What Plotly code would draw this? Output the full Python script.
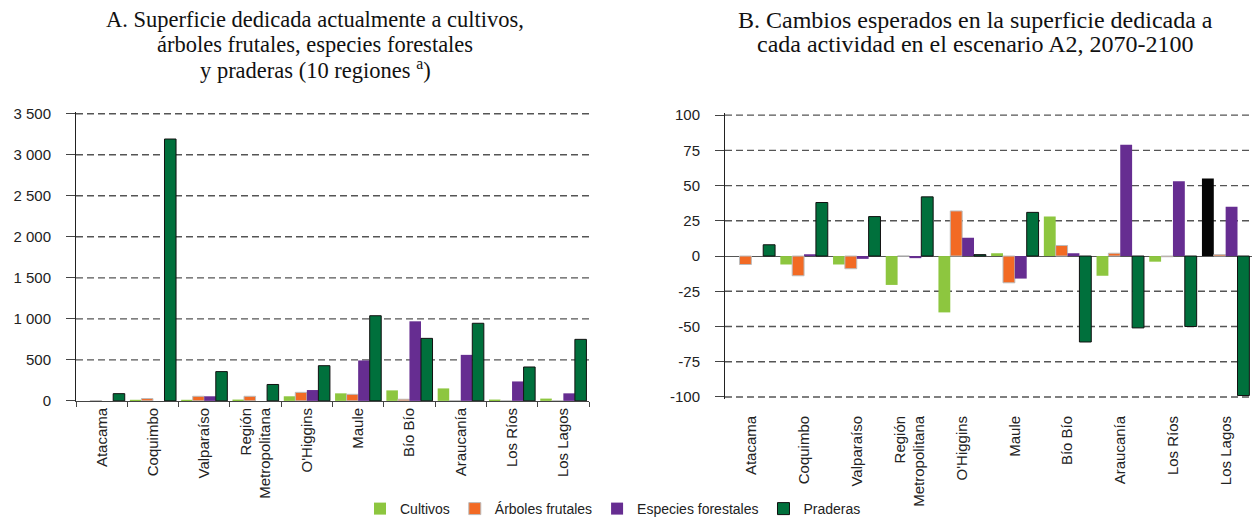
import plotly.graph_objects as go

# Regions (categories shared by both panels)
regions = ["Atacama", "Coquimbo", "Valparaíso", "Región<br>Metropolitana", "O'Higgins",
           "Maule", "Bío Bío", "Araucanía", "Los Ríos", "Los Lagos"]

series_names = ["Cultivos", "Árboles frutales", "Especies forestales", "Praderas"]

# Panel A: current surface (thousand ha)
cultivos_a = [0, 5, 5, 16, 56, 92, 128, 152, 16, 28]
arboles_a = [3, 28, 56, 56, 104, 80, 20, 3, 0, 0]
especies_a = [0, 0, 56, 0, 132, 493, 970, 561, 237, 92]
praderas_a = [88, 3192, 357, 200, 429, 1038, 762, 946, 413, 750]

# Panel B: expected change (%), scenario A2, 2070-2100
cultivos_b = [0, -6, -6, -20.5, -40, 2, 28, -14, -4, 55]
arboles_b = [-6, -14, -9, 0, 32, -19, 7.5, 2, -0.5, 1]
especies_b = [0, 1, -2, -1.5, 13, -16, 2, 79, 53, 35]
praderas_b = [8, 38, 28, 42, 1, 31, -61, -51, -50, -99]

# Y tick labels
ticks_a = [0, 500, 1000, 1500, 2000, 2500, 3000, 3500]
ticktext_a = ["0", "500", "1 000", "1 500", "2 000", "2 500", "3 000", "3 500"]
ticks_b = [-100, -75, -50, -25, 0, 25, 50, 75, 100]
ticktext_b = ["-100", "-75", "-50", "-25", "0", "25", "50", "75", "100"]

# Panel titles, one entry per line
title_a = ["A. Superficie dedicada actualmente a cultivos,",
           "árboles frutales, especies forestales",
           "y praderas (10 regiones <sup>a</sup>)"]
title_b = ["B. Cambios esperados en la superficie dedicada a",
           "cada actividad en el escenario A2, 2070-2100"]

W, H = 1253, 525
SANS = "Liberation Sans, Arial, sans-serif"
SERIF = "Liberation Serif, Times New Roman, serif"

fills = ["#8DC63F", "#F26A24", "#662D91", "#00703C"]
outlines = [dict(width=0), dict(color="#BBBBBB", width=1),
            dict(width=0), dict(color="#111111", width=1)]

# Cultivos bar for the last region is drawn in black in panel B
cultivos_b_colors = [fills[0]] * (len(regions) - 1) + ["#050505"]

data_a = [cultivos_a, arboles_a, especies_a, praderas_a]
data_b = [cultivos_b, arboles_b, especies_b, praderas_b]

fig = go.Figure()
for i, name in enumerate(series_names):
    fig.add_bar(x=regions, y=data_a[i], name=name, legendgroup=name,
                marker=dict(color=fills[i], line=outlines[i]),
                xaxis="x", yaxis="y")
for i, name in enumerate(series_names):
    color_b = cultivos_b_colors if i == 0 else fills[i]
    fig.add_bar(x=regions, y=data_b[i], name=name, legendgroup=name, showlegend=False,
                marker=dict(color=color_b, line=outlines[i]),
                xaxis="x2", yaxis="y2")


def px_x(p):
    return p / W


def px_y(p):
    return 1 - p / H


PAD = 2  # px of headroom above/below the outermost ticks

# Panel A: 0 sits at y=406.3px, 3500 at y=115.3px
a_scale = (406.3 - 115.3) / 3500
a_lo, a_hi = 0, 3500 + PAD / a_scale
ax_a = [px_x(76), px_x(589)]
ay_a = [px_y(406.3), px_y(115.3 - PAD)]

# Panel B: -100 at y=402.3px, 100 at y=116.7px
b_scale = (402.3 - 116.7) / 200
b_pad = PAD / b_scale
ax_b = [px_x(725), px_x(1252)]
ay_b = [px_y(402.3 + PAD), px_y(116.7 - PAD)]
zero_b = (ay_b[0] + ay_b[1]) / 2

tickfont = dict(family=SANS, size=15, color="#222222")
grid_line = dict(color="#555555", width=1.4, dash="7px,4px")

# Dashed horizontal gridlines at every non-zero tick value
shapes = []
for v in ticks_a:
    if v != 0:
        shapes.append(dict(type="line", xref="x domain", yref="y", x0=0, x1=1, y0=v, y1=v,
                           line=grid_line, layer="below"))
for v in ticks_b:
    if v != 0:
        shapes.append(dict(type="line", xref="x2 domain", yref="y2", x0=0, x1=1, y0=v, y1=v,
                           line=grid_line, layer="below"))

annotations = []
baselines = [27, 52, 77]
for line, base in zip(title_a, baselines):
    annotations.append(dict(text=line, x=px_x(315), y=px_y(base - 7), xref="paper", yref="paper",
                            xanchor="center", yanchor="middle", showarrow=False,
                            font=dict(family=SERIF, size=22.5, color="#111111")))
for line, base in zip(title_b, baselines):
    annotations.append(dict(text=line, x=px_x(975), y=px_y(base - 7), xref="paper", yref="paper",
                            xanchor="center", yanchor="middle", showarrow=False,
                            font=dict(family=SERIF, size=24, color="#111111")))

fig.update_layout(
    width=W, height=H,
    margin=dict(l=0, r=0, t=0, b=0),
    paper_bgcolor="white", plot_bgcolor="rgba(0,0,0,0)",
    barmode="group", bargap=0.1, bargroupgap=0,
    font=dict(family=SANS, size=14, color="#222222"),
    xaxis=dict(domain=ax_a, anchor="y", type="category",
               showline=True, linecolor="#444444", linewidth=1,
               ticks="outside", tickson="boundaries", ticklen=5, tickcolor="#444444",
               tickangle=-90, tickfont=tickfont, showgrid=False, automargin=False),
    yaxis=dict(domain=ay_a, anchor="x", range=[a_lo, a_hi],
               tickmode="array", tickvals=ticks_a, ticktext=ticktext_a,
               showline=True, linecolor="#222222", linewidth=1,
               ticks="outside", ticklen=9, tickcolor="#444444",
               ticklabelstandoff=12, zeroline=False, showgrid=False,
               tickfont=tickfont, automargin=False),
    xaxis2=dict(domain=ax_b, anchor="y2", type="category",
                showline=False, ticks="", tickangle=-90, tickfont=tickfont,
                ticklabelstandoff=13, showgrid=False, automargin=False),
    xaxis3=dict(overlaying="x2", anchor="free", position=zero_b,
                range=[-0.5, len(regions) - 0.5],
                tickmode="array", tickvals=[k - 0.5 for k in range(len(regions) + 1)],
                showticklabels=False, ticks="outside", ticklen=5, tickcolor="#444444",
                showline=False, showgrid=False, zeroline=False, automargin=False),
    yaxis2=dict(domain=ay_b, anchor="x2", range=[-100 - b_pad, 100 + b_pad],
                tickmode="array", tickvals=ticks_b, ticktext=ticktext_b,
                showline=True, linecolor="#222222", linewidth=1,
                ticks="outside", ticklen=9, tickcolor="#444444",
                ticklabelstandoff=12, showgrid=False,
                zeroline=True, zerolinecolor="#555555", zerolinewidth=1,
                tickfont=tickfont, automargin=False),
    legend=dict(orientation="h", x=px_x(613), xanchor="center", y=px_y(516), yanchor="middle",
                font=dict(family=SANS, size=14, color="#222222"),
                bgcolor="rgba(0,0,0,0)", traceorder="normal"),
    shapes=shapes,
    annotations=annotations,
)

fig.write_html("out.html")
